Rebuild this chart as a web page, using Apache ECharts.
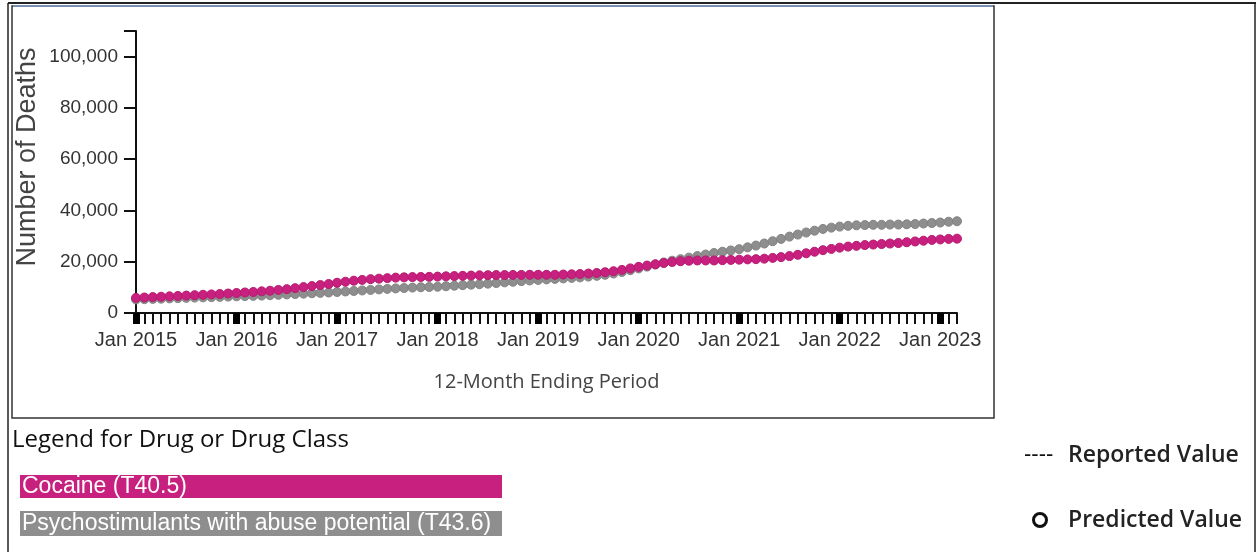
<!DOCTYPE html>
<html>
<head>
<meta charset="utf-8">
<script src="https://cdn.jsdelivr.net/npm/echarts@6/dist/echarts.min.js"></script>
<style>
html,body{margin:0;padding:0;background:#fff;}
#chart{width:1257px;height:552px;}
</style>
</head>
<body>
<div id="chart"></div>
<script>
var years = [2015, 2016, 2017, 2018, 2019, 2020, 2021, 2022, 2023];
var monthNames = ['Jan','Feb','Mar','Apr','May','Jun','Jul','Aug','Sep','Oct','Nov','Dec'];
var lastYearMonths = 3;
var yTicks = [0, 20000, 40000, 60000, 80000, 100000];
var seriesNames = ['Cocaine (T40.5)', 'Psychostimulants with abuse potential (T43.6)'];

var cocaine = [
  5900,6050,6200,6350,6500,6650,6800,6950,7100,7250,7400,7600,
  7800,8000,8200,8450,8700,9000,9300,9700,10100,10500,10900,11300,
  11800,12200,12600,12900,13200,13400,13600,13800,13900,14000,14050,14100,
  14200,14300,14400,14500,14600,14700,14750,14800,14800,14850,14850,14900,
  14900,14900,14900,15000,15100,15200,15400,15600,15900,16300,16800,17400,
  18000,18500,19000,19500,19900,20200,20400,20500,20500,20500,20600,20700,
  20800,20900,21000,21200,21500,21800,22200,22700,23300,23900,24500,25000,
  25500,25900,26200,26500,26700,26900,27100,27300,27600,27900,28200,28500,
  28700,28900,29000
];
var psychostimulants = [
  5300,5400,5500,5600,5700,5800,5900,6000,6100,6200,6300,6400,
  6500,6600,6700,6800,6950,7100,7250,7400,7550,7700,7850,8000,
  8200,8400,8600,8800,9000,9200,9400,9600,9750,9900,10050,10150,
  10250,10450,10650,10850,11050,11250,11450,11700,11950,12200,12450,12700,
  12900,13100,13300,13500,13700,13900,14200,14500,14900,15400,16000,16700,
  17400,18100,18900,19700,20400,21000,21600,22200,22800,23400,23900,24400,
  24900,25600,26300,27100,28000,28900,29800,30600,31400,32100,32800,33300,
  33700,34000,34200,34300,34400,34400,34500,34500,34600,34700,34900,35100,
  35300,35600,35800
];

var categories = [];
years.forEach(function (y, yi) {
  var n = (yi === years.length - 1) ? lastYearMonths : 12;
  for (var m = 0; m < n; m++) categories.push(monthNames[m] + ' ' + y);
});

var pink = '#C8207F';
var gray = '#8E8E8E';
var chart = echarts.init(document.getElementById('chart'));
var isJan = function (i, v) { return v.indexOf('Jan') === 0; };

var option = {
  animation: false,
  backgroundColor: '#fff',
  grid: {left: 136, right: 300, top: 31, bottom: 239},
  xAxis: [
    {
      type: 'category', data: categories, boundaryGap: false,
      axisLine: {show: true, lineStyle: {color: '#111', width: 2}},
      axisTick: {show: true, interval: 0, length: 11, lineStyle: {color: '#111', width: 2}},
      axisLabel: {show: false},
      splitLine: {show: false}
    },
    {
      type: 'category', data: categories, boundaryGap: false, position: 'bottom',
      axisLine: {show: false},
      axisTick: {show: true, length: 11, lineStyle: {color: '#000', width: 7}, interval: isJan},
      axisLabel: {show: true, margin: 17, fontFamily: 'Liberation Sans, Arial', fontSize: 20, color: '#333', interval: isJan},
      name: '12-Month Ending Period', nameLocation: 'middle', nameGap: 59,
      nameTextStyle: {fontFamily: 'Open Sans', fontSize: 20, color: '#444'},
      splitLine: {show: false}
    }
  ],
  yAxis: {
    type: 'value', min: 0, max: 110000, interval: 20000,
    axisLine: {show: true, lineStyle: {color: '#111', width: 2}},
    axisTick: {show: true, length: 12, lineStyle: {color: '#111', width: 2}},
    axisLabel: {showMaxLabel: false, margin: 18, fontFamily: 'Liberation Sans, Arial', fontSize: 19, color: '#333',
      formatter: function (v) { return yTicks.indexOf(v) >= 0 ? v.toLocaleString('en-US') : ''; }},
    splitLine: {show: false}
  },
  series: [
    {
      name: seriesNames[1], type: 'line', data: psychostimulants, xAxisIndex: 0,
      symbol: 'circle', symbolSize: 9, showAllSymbol: true,
      itemStyle: {color: gray, borderColor: '#838383', borderWidth: 1},
      lineStyle: {color: gray, width: 2}
    },
    {
      name: seriesNames[0], type: 'line', data: cocaine, xAxisIndex: 0,
      symbol: 'circle', symbolSize: 9, showAllSymbol: true,
      itemStyle: {color: pink, borderColor: '#B81A72', borderWidth: 1},
      lineStyle: {color: pink, width: 2}
    }
  ],
  graphic: [
    {type: 'line', shape: {x1: 8, y1: 3, x2: 1256, y2: 3}, style: {stroke: '#222', lineWidth: 2}},
    {type: 'line', shape: {x1: 8, y1: 3, x2: 8, y2: 552}, style: {stroke: '#222', lineWidth: 1.5}},
    {type: 'line', shape: {x1: 1255, y1: 3, x2: 1255, y2: 552}, style: {stroke: '#222', lineWidth: 1.5}},
    {type: 'rect', shape: {x: 12, y: 6, width: 982, height: 412}, style: {fill: 'none', stroke: '#333', lineWidth: 1.5}},
    {type: 'line', shape: {x1: 13, y1: 6, x2: 993, y2: 6}, style: {stroke: '#7f9fcc', lineWidth: 1.5}},
    {type: 'line', shape: {x1: 124, y1: 31, x2: 136, y2: 31}, style: {stroke: '#111', lineWidth: 2}},
    {type: 'text', x: 28, y: 157, rotation: Math.PI / 2,
      style: {text: 'Number of Deaths', fontFamily: 'Liberation Sans, Arial', fontSize: 27, fill: '#444', align: 'center', verticalAlign: 'middle'}},
    {type: 'text', x: 12, y: 440, style: {text: 'Legend for Drug or Drug Class', fontFamily: 'Open Sans', fontSize: 24, fill: '#111', verticalAlign: 'middle'}},
    {type: 'rect', shape: {x: 20, y: 475, width: 482, height: 23}, style: {fill: pink}},
    {type: 'text', x: 22, y: 487, style: {text: seriesNames[0], fontFamily: 'Liberation Sans, Arial', fontSize: 23, fill: '#fff', verticalAlign: 'middle'}},
    {type: 'rect', shape: {x: 20, y: 511, width: 482, height: 25}, style: {fill: gray}},
    {type: 'text', x: 22, y: 524, style: {text: seriesNames[1], fontFamily: 'Liberation Sans, Arial', fontSize: 23, fill: '#fff', verticalAlign: 'middle'}},
    {type: 'text', x: 1024, y: 455, style: {text: '----', fontFamily: 'Liberation Sans, Arial', fontSize: 22, fill: '#111', verticalAlign: 'middle'}},
    {type: 'text', x: 1068, y: 455, style: {text: 'Reported Value', fontFamily: 'Open Sans', fontSize: 23, fontWeight: 600, fill: '#222', verticalAlign: 'middle'}},
    {type: 'circle', shape: {cx: 1040, cy: 520, r: 6.5}, style: {fill: 'none', stroke: '#111', lineWidth: 3}},
    {type: 'text', x: 1068, y: 520, style: {text: 'Predicted Value', fontFamily: 'Open Sans', fontSize: 23, fontWeight: 600, fill: '#222', verticalAlign: 'middle'}}
  ]
};
chart.setOption(option);
</script>
</body>
</html>
